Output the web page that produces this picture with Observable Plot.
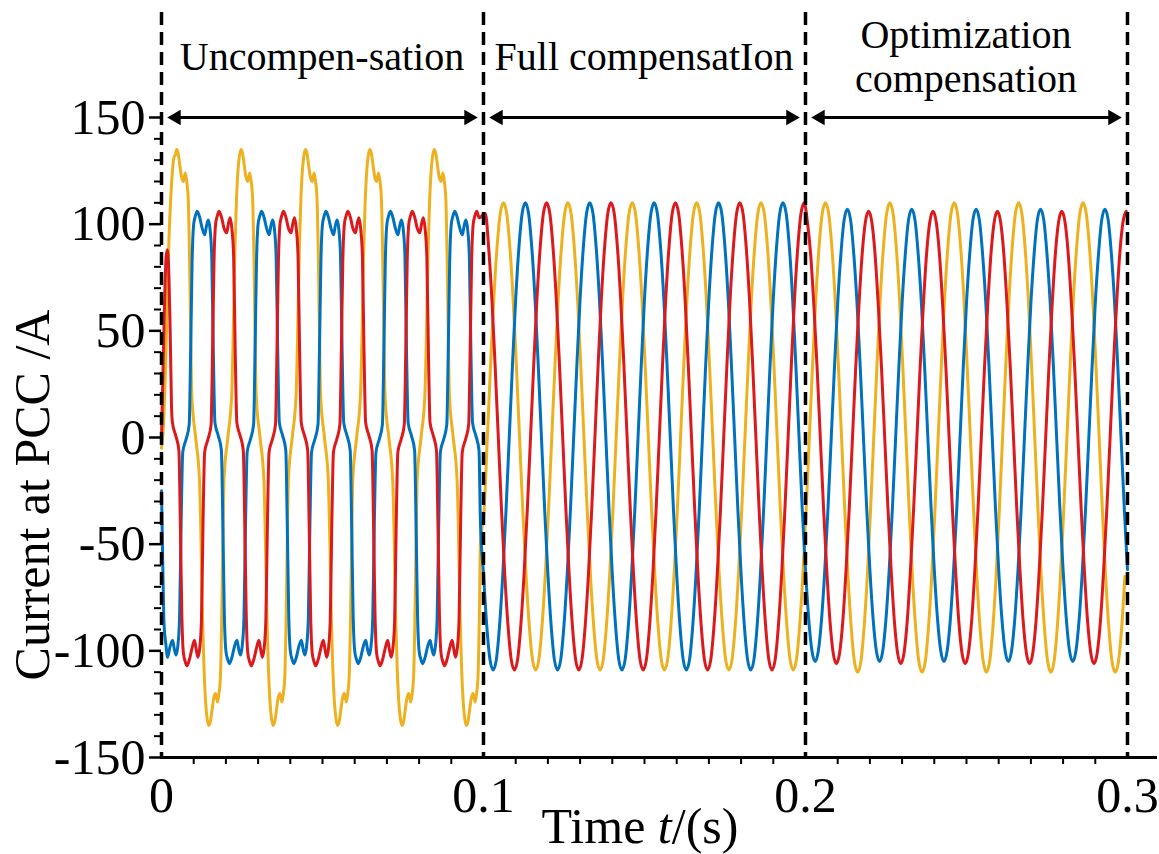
<!DOCTYPE html>
<html>
<head>
<meta charset="utf-8">
<script src="https://cdn.jsdelivr.net/npm/d3@7"></script>
<script src="https://cdn.jsdelivr.net/npm/@observablehq/plot@0.6"></script>
<style>
  html, body { margin: 0; padding: 0; background: #fff; }
  #chart svg { display: block; }
</style>
</head>
<body>
<div id="chart"></div>
<script>
// ---------------- data ----------------
const periodMs = 20;                       // 50 Hz supply
const sectionStart = [0, 0.1, 0.2];
const sectionEnd   = [0.1, 0.2, 0.3];
const sectionLabels = ["Uncompen-sation", "Full compensatIon", "Optimization\ncompensation"];
const boundaries = [0, 0.1, 0.2, 0.3];
const xTicks = [0, 0.1, 0.2, 0.3];
const yTicks = [-150, -100, -50, 0, 50, 100, 150];

// Uncompensated one-cycle shapes: time (ms, relative to the phase's positive peak) and current (A)
const blueUncompT = [-4.5, -3.5, -2.5, -2.05, -1.6, -1.1, -0.55, 0, 0.78, 1.55, 2.35, 2.85, 3.42, 3.95, 4.5, 5.0,
                      5.5, 6.5, 7.5, 7.95, 8.4, 8.9, 9.45, 10, 10.78, 11.55, 12.35, 12.85, 13.42, 13.95, 14.5, 15.0];
const blueUncompV = [-7, -1, 6, 40, 82, 100, 104, 106, 103, 98, 95, 99, 102, 98, 85, 40,
                      7, 1, -6, -40, -82, -100, -104, -106, -103, -98, -95, -99, -102, -98, -85, -40];
const redUncompT  = [-4.5, -3.5, -2.5, -2.05, -1.6, -1.1, -0.55, 0, 0.78, 1.55, 2.35, 2.85, 3.42, 3.95, 4.5, 5.0,
                      5.5, 6.5, 7.5, 7.95, 8.4, 8.9, 9.45, 10, 10.78, 11.55, 12.35, 12.85, 13.42, 13.95, 14.5, 15.0];
const redUncompV  = [-7, -1, 6, 40, 82, 100, 104, 106, 103, 98, 96, 100, 103, 98, 85, 40,
                      7, 1, -6, -40, -82, -101, -105, -107, -104, -99, -95, -99, -103, -99, -86, -40];
const yellowUncompT = [-5.3, -4.1, -2.9, -2.4, -1.95, -1.5, -1.0, -0.5, 0, 0.5, 1.05, 1.55, 2.08, 2.7, 3.15, 3.6, 4.0, 4.35,
                        4.7, 5.9, 7.1, 7.6, 8.05, 8.5, 9.0, 9.5, 10, 10.5, 11.05, 11.55, 12.08, 12.7, 13.15, 13.6, 14.0, 14.35];
const yellowUncompV = [-20, 0, 20, 50, 85, 108, 124, 132, 135, 133, 127, 122, 120, 124, 120, 112, 85, 50,
                        20, 0, -20, -50, -85, -108, -124, -132, -135, -133, -127, -122, -120, -124, -120, -112, -85, -50];
// peak instants inside each 20 ms cycle (ms)
const uncompPeakMs = {yellow: 4.7, blue: 11.1, red: 17.9};

// start-up transient (ms, A)
const yellowStartT = [0, 0.7, 1.3, 1.8, 2.3, 2.8, 3.4, 4.0];
const yellowStartV = [-5, 8, 35, 64, 92, 110, 125, 132];
const blueStartT = [0, 0.4, 0.8, 1.3];
const blueStartV = [-25, -60, -88, -96];
const redStartT = [0, 0.3, 0.9, 1.4, 1.8, 2.3, 2.7, 3.1];
const redStartV = [0, 20, 60, 84, 88, 76, 50, 15];

// Compensated cycles, sampled every 1 ms from the positive peak
const waveMs = [0, 1, 2, 3, 4, 5, 6, 7, 8, 9, 10, 11, 12, 13, 14, 15, 16, 17, 18, 19];
const fullCompWave = [110, 105, 89, 65, 34, 0, -34, -64, -88, -104, -109, -104, -88, -64, -34, 0, 34, 65, 89, 105];
const optYellowWave = [110, 105, 89, 65, 34, 0, -34, -65, -89, -105, -110, -105, -89, -65, -34, 0, 34, 65, 89, 105];
const optBlueWave   = [107, 102, 86, 63, 33, 0, -33, -62, -85, -100, -105, -100, -85, -62, -33, 0, 33, 63, 86, 102];
const optRedWave    = [106, 101, 86, 62, 33, 0, -33, -62, -86, -101, -106, -101, -86, -62, -33, 0, 33, 62, 86, 101];
const compPeakMs = {yellow: 6.2, blue: 13.0, red: 19.6};

const uncompEndMs = 99.1;
const colors = {yellow: "#EDB120", blue: "#0072BD", red: "#DA1A1D"};

// ---------------- assemble series ----------------
function tile(T, V, peakMs, fromMs, toMs) {
  const pts = [];
  for (let k = -2; k <= 17; k++) {
    T.forEach((dt, i) => {
      const t = peakMs + k * periodMs + dt;
      if (t >= fromMs && t < toMs) pts.push({t, v: V[i]});
    });
  }
  return pts;
}
function series(name, startT, startV, uT, uV, fullWave, optWave) {
  const pts = startT.map((t, i) => ({t, v: startV[i]}));
  const startEnd = startT[startT.length - 1];
  pts.push(...tile(uT, uV, uncompPeakMs[name], startEnd + 0.05, uncompEndMs));
  pts.push(...tile(waveMs, fullWave, compPeakMs[name], 100, 200));
  pts.push(...tile(waveMs, optWave, compPeakMs[name], 200, 300.001));
  pts.sort((a, b) => a.t - b.t);
  return pts.map(d => ({t: d.t / 1000, v: d.v}));
}
const yellowData = series("yellow", yellowStartT, yellowStartV, yellowUncompT, yellowUncompV, fullCompWave, optYellowWave);
const blueData   = series("blue", blueStartT, blueStartV, blueUncompT, blueUncompV, fullCompWave, optBlueWave);
const redData    = series("red", redStartT, redStartV, redUncompT, redUncompV, fullCompWave, optRedWave);

const sections = sectionStart.map((s, i) => ({start: s, end: sectionEnd[i], label: sectionLabels[i]}));
const yTop = d3.max(yTicks);
const minorY = d3.range(-150, 151, 10).filter(d => d % 50 !== 0);
const minorX = d3.range(1, 30).filter(i => i % 10 !== 0).map(i => i / 100);

const font = "Liberation Serif";
const lineOpts = {x: "t", y: "v", strokeWidth: 3, curve: "monotone-x"};
const headOffset = 14.7;

const chart = Plot.plot({
  width: 1159,
  height: 854,
  marginLeft: 161,
  marginRight: 4,
  marginTop: 117,
  marginBottom: 97,
  style: {fontFamily: font, color: "#000", background: "#fff"},
  x: {domain: [0, 0.3087]},
  y: {domain: [-150, 150]},
  marks: [
    Plot.line(yellowData, {...lineOpts, stroke: colors.yellow}),
    Plot.line(blueData, {...lineOpts, stroke: colors.blue}),
    Plot.line(redData, {...lineOpts, stroke: colors.red}),
    Plot.ruleX(boundaries, {stroke: "#000", strokeWidth: 3.5, strokeDasharray: "13,7", insetTop: -105}),
    Plot.ruleY(sections, {y: () => yTop, x1: "start", x2: "end", insetLeft: 10, insetRight: 10, stroke: "#000", strokeWidth: 3}),
    Plot.dot(sections, {x: "start", y: () => yTop, symbol: "triangle", r: 5.8, rotate: -90, dx: headOffset, fill: "#000", stroke: null}),
    Plot.dot(sections, {x: "end", y: () => yTop, symbol: "triangle", r: 5.8, rotate: 90, dx: -headOffset, fill: "#000", stroke: null}),
    Plot.frame({anchor: "bottom", strokeWidth: 3}),
    Plot.axisY({ticks: yTicks, tickSize: 12, tickPadding: 4, fontSize: 50, fontFamily: font, tickFormat: d => `${d}`, label: null, strokeWidth: 2.5}),
    Plot.axisY({ticks: minorY, tickSize: 7, tickFormat: () => "", label: null, strokeWidth: 2}),
    Plot.axisX({ticks: xTicks, tickSize: 0, tickPadding: 19, fontSize: 50, fontFamily: font, tickFormat: d => `${d}`, label: null}),
    Plot.axisX({ticks: minorX, tickSize: 7, tickFormat: () => "", label: null, strokeWidth: 2})
  ]
});

const svg = d3.select(chart);
const xScale = chart.scale("x");
const yScale = chart.scale("y");
const topY = yScale.apply(yTop);

// section captions above the arrows, centred on each section
sections.forEach(s => {
  const lines = s.label.split("\n");
  const cx = xScale.apply((s.start + s.end) / 2);
  const t = svg.append("text")
    .attr("text-anchor", "middle")
    .attr("font-family", font).attr("font-size", 40).attr("fill", "#000");
  lines.forEach((ln, i) => {
    t.append("tspan")
      .attr("x", cx)
      .attr("y", topY - 47 + (i - (lines.length - 1) / 2) * 44)
      .text(ln);
  });
});

const xl = svg.append("text")
  .attr("x", 640).attr("y", 843)
  .attr("text-anchor", "middle")
  .attr("font-family", font).attr("font-size", 50).attr("fill", "#000");
xl.append("tspan").text("Time ");
xl.append("tspan").attr("font-style", "italic").text("t");
xl.append("tspan").text("/(s)");

svg.append("text")
  .attr("transform", "translate(31,495) rotate(-90)")
  .attr("dy", "0.35em")
  .attr("text-anchor", "middle")
  .attr("font-family", font).attr("font-size", 50).attr("fill", "#000")
  .text("Current at PCC /A");

document.getElementById("chart").appendChild(chart);
</script>
</body>
</html>
